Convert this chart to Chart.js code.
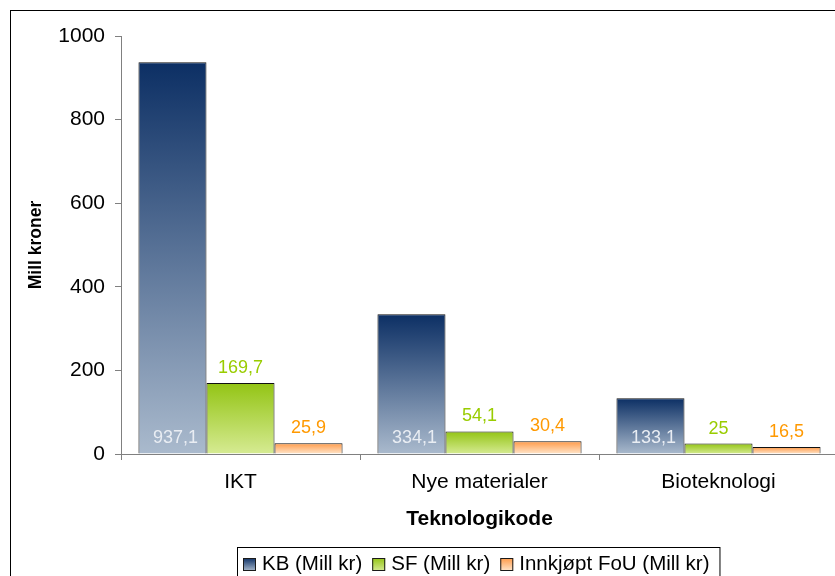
<!DOCTYPE html>
<html>
<head>
<meta charset="utf-8">
<script src="https://cdn.jsdelivr.net/npm/chart.js@4.4.1/dist/chart.umd.min.js"></script>
<style>
  html, body { margin: 0; padding: 0; overflow: hidden; background: #fff; }
  canvas { display: block; }
</style>
</head>
<body>
<canvas id="chart" width="850" height="576"></canvas>
<script>
const categories = ['IKT', 'Nye materialer', 'Bioteknologi'];
const kbValues = [937.1, 334.1, 133.1];
const sfValues = [169.7, 54.1, 25];
const fouValues = [25.9, 30.4, 16.5];
const seriesNames = ['KB (Mill kr)', 'SF (Mill kr)', 'Innkjøpt FoU (Mill kr)'];
const yTicks = [0, 200, 400, 600, 800, 1000];

const FONT = "'Liberation Sans', Arial, sans-serif";
// top colour, bottom colour for each series
const gradientStops = [['#0c2f64', '#aabacd'], ['#93c414', '#d6eb93'], ['#ff9a48', '#ffe6cc']];
const labelColors = ['#e9edf3', '#99cc00', '#ff9900'];

function barGradient(ctx, i) {
  const chart = ctx.chart;
  const y = chart.scales.y;
  if (!y || ctx.type !== 'data') return gradientStops[i][1];
  const top = y.getPixelForValue(ctx.raw);
  const base = y.getPixelForValue(0);
  if (!isFinite(top) || !isFinite(base) || top === base) return gradientStops[i][1];
  const g = chart.ctx.createLinearGradient(0, top, 0, base);
  g.addColorStop(0, gradientStops[i][0]);
  g.addColorStop(1, gradientStops[i][1]);
  return g;
}

function makeDataset(i, values) {
  return {
    label: seriesNames[i],
    data: values,
    backgroundColor: ctx => barGradient(ctx, i),
    borderColor: '#111',
    borderWidth: 1,
    barPercentage: 1,
    categoryPercentage: 0.854
  };
}

// value labels: KB inside the bar bottom, others above the bar
const valueLabels = {
  id: 'valueLabels',
  afterDatasetsDraw(chart) {
    const ctx = chart.ctx;
    ctx.save();
    ctx.font = '18px ' + FONT;
    ctx.textAlign = 'center';
    ctx.textBaseline = 'middle';
    chart.data.datasets.forEach((ds, i) => {
      chart.getDatasetMeta(i).data.forEach((bar, j) => {
        const txt = String(ds.data[j]).replace('.', ',');
        ctx.fillStyle = labelColors[i];
        if (i === 0) ctx.fillText(txt, bar.x + 3, bar.base - 15);
        else ctx.fillText(txt, bar.x, bar.y - 15);
      });
    });
    ctx.restore();
  }
};

// outer frame and boxed legend
const frameAndLegend = {
  id: 'frameAndLegend',
  afterDraw(chart) {
    const ctx = chart.ctx;
    ctx.save();
    ctx.strokeStyle = '#000';
    ctx.lineWidth = 1;
    ctx.strokeRect(10.5, 10.5, 900, 900);

    ctx.font = '20.5px ' + FONT;
    ctx.textBaseline = 'middle';
    const left = 237, top = 547, cy = 564;
    let x = left + 6;
    chart.data.datasets.forEach((ds, i) => {
      const g = ctx.createLinearGradient(0, cy - 6, 0, cy + 7);
      g.addColorStop(0, gradientStops[i][0]);
      g.addColorStop(1, gradientStops[i][1]);
      ctx.fillStyle = g;
      ctx.fillRect(x, cy - 6, 13, 13);
      ctx.strokeStyle = '#1a1a1a';
      ctx.strokeRect(x + 0.5, cy - 5.5, 12, 12);
      x += 13 + 6;
      ctx.fillStyle = '#000';
      ctx.fillText(ds.label, x, cy);
      x += ctx.measureText(ds.label).width + 10;
    });
    ctx.strokeStyle = '#000';
    ctx.strokeRect(left + 0.5, top + 0.5, x - left, 100);
    ctx.restore();
  }
};

new Chart(document.getElementById('chart'), {
  type: 'bar',
  data: {
    labels: categories,
    datasets: [makeDataset(0, kbValues), makeDataset(1, sfValues), makeDataset(2, fouValues)]
  },
  options: {
    responsive: false,
    animation: false,
    layout: { padding: { left: 0, right: 12, top: 36, bottom: 42 } },
    plugins: {
      legend: { display: false },
      tooltip: { enabled: false }
    },
    scales: {
      x: {
        afterFit(s) { s.height = 80; },
        ticks: { font: { size: 21, family: FONT }, color: '#000', padding: 10 },
        grid: { drawOnChartArea: false, tickLength: 6, color: '#808080', offset: true },
        border: { color: '#808080' },
        title: {
          display: true, text: 'Teknologikode', color: '#000',
          font: { size: 21, weight: 'bold', family: FONT },
          padding: { top: 0, bottom: 2 }
        }
      },
      y: {
        min: 0, max: 1000,
        afterFit(s) { s.width = 121; },
        afterBuildTicks(s) { s.ticks = yTicks.map(v => ({ value: v })); },
        ticks: {
          font: { size: 21, family: FONT }, color: '#000', padding: 10,
          callback: v => String(v)
        },
        grid: { drawOnChartArea: false, tickLength: 6, color: '#808080' },
        border: { color: '#808080' },
        title: {
          display: true, text: 'Mill kroner', color: '#000',
          font: { size: 17.5, weight: 'bold', family: FONT },
          padding: { top: 26, bottom: 0 }
        }
      }
    }
  },
  plugins: [valueLabels, frameAndLegend]
});
</script>
</body>
</html>
